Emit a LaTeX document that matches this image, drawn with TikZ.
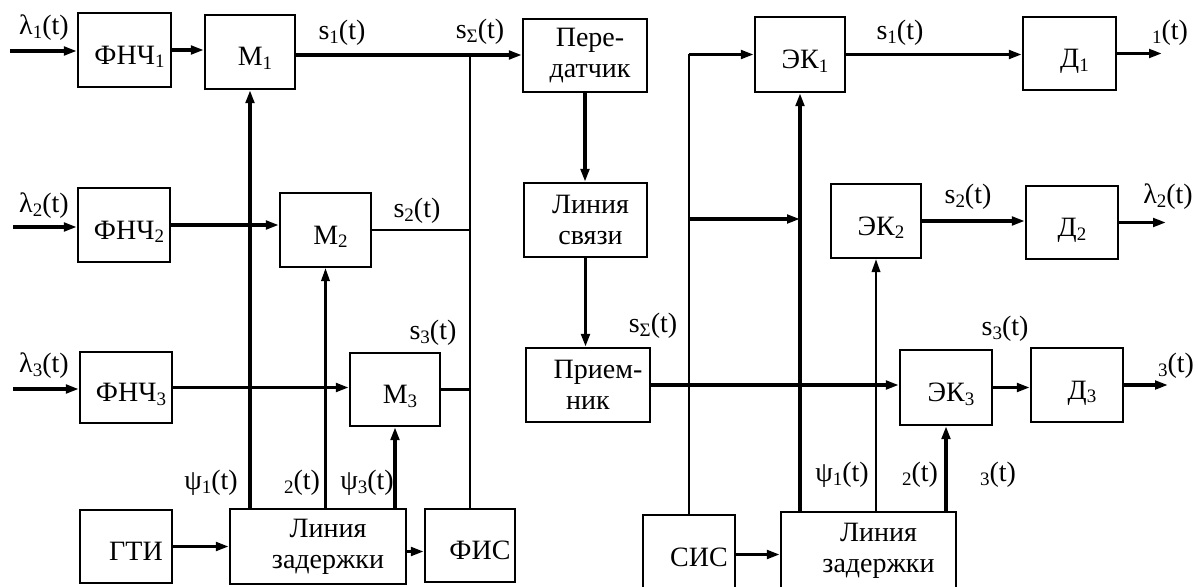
\documentclass[tikz,border=0pt]{standalone}
\usepackage{fontspec}
\setmainfont{Liberation Serif}
\usetikzlibrary{arrows.meta}
\newcommand\lo[1]{\raisebox{-0.3ex}{\fontsize{19pt}{19pt}\selectfont #1}}
\newcommand\sh{\hspace*{10pt}}
\begin{document}
\begin{tikzpicture}[x=1pt,y=-1pt,
  font=\fontsize{28pt}{31pt}\selectfont,
  box/.style={draw, line width=2.3pt, inner sep=0pt, align=center},
  one/.style={text height=28pt, text depth=0pt},
  sz/.style 2 args={minimum width=#1pt, minimum height=#2pt},
  thk/.style={line width=3.5pt},
  thn/.style={line width=2.2pt},
  arr/.style={-{Triangle[length=13pt,width=8.5pt]}},
  lbl/.style={inner sep=0pt}]
\useasboundingbox (0,0) rectangle (1198,586);
% left side boxes
\node[box,one,sz={93}{74}] (f1) at (124.5,50) {\sh ФНЧ\lo{1}};
\node[box,one,sz={90}{74}] (m1) at (250,52) {\sh M\lo{1}};
\node[box,one,sz={92}{74}] (f2) at (124,225) {\sh ФНЧ\lo{2}};
\node[box,one,sz={91}{74}] (m2) at (325.5,230) {\sh M\lo{2}};
\node[box,one,sz={92}{71}] (f3) at (126,387.5) {\sh ФНЧ\lo{3}};
\node[box,one,sz={90}{73}] (m3) at (395,389.5) {\sh M\lo{3}};
\node[box,one,sz={92}{73}] (gti) at (126,546.5) {\sh\sh ГТИ};
\node[box,sz={176}{75}] (lz1) at (318,546.5) {\sh\sh Линия\\\sh\sh задержки};
\node[box,one,sz={90}{73}] (fis) at (470,545.5) {\sh\sh ФИС};
% channel
\node[box,sz={124}{73}] (tx) at (585,55.5) {\sh Пере-\\\sh датчик};
\node[box,sz={123}{74}] (ls) at (585.5,220) {\sh Линия\\\sh связи};
\node[box,sz={124}{74}] (rx) at (588,385) {\sh\sh Прием-\\ник};
% right side boxes
\node[box,one,sz={92}{75}] (sis) at (689,552.5) {\sh\sh СИС};
\node[box,sz={175}{78}] (lz2) at (868.5,551) {\sh\sh Линия\\\sh\sh задержки};
\node[box,one,sz={90}{75}] (ek1) at (800,54.5) {\sh ЭК\lo{1}};
\node[box,one,sz={93}{73}] (d1) at (1069.5,53.5) {\sh Д\lo{1}};
\node[box,one,sz={90}{74}] (ek2) at (876,221) {\sh ЭК\lo{2}};
\node[box,one,sz={92}{73}] (d2) at (1072,222.5) {Д\lo{2}};
\node[box,one,sz={92}{75}] (ek3) at (946,387.5) {\sh ЭК\lo{3}};
\node[box,one,sz={92}{74}] (d3) at (1077,385) {\sh Д\lo{3}};
% free ends and junctions
\coordinate (in1) at (10,51);
\coordinate (in2) at (13,227);
\coordinate (in3) at (13,389);
\coordinate (j1) at (470,55);
\coordinate (o1) at (1162,53.5);
\coordinate (o2) at (1166,222.5);
\coordinate (o3) at (1168,385);
\coordinate (b1) at (689,219);
% left connectors
\draw[thk,arr] (in1) -- (in1 -| f1.west);
\draw[thk,arr] (in2) -- (in2 -| f2.west);
\draw[thk,arr] (in3) -- (in3 -| f3.west);
\draw[thk,arr] (f1.east) -- (f1.east -| m1.west);
\draw[thk,arr] (f2.east) -- (f2.east -| m2.west);
\draw[thk,arr] (f3.east) -- (f3.east -| m3.west);
\draw[thk,arr] (m1.east |- j1) -- (j1 -| tx.west);
\draw[thn] (fis.north) -- (j1);
\draw[thn] (m2.east) -- (m2.east -| fis.north);
\draw[thn] (m3.east) -- (m3.east -| fis.north);
\draw[thk,arr] (lz1.north -| m1.south) -- (m1.south);
\draw[thn,arr] (lz1.north -| m2.south) -- (m2.south);
\draw[thk,arr] (lz1.north -| m3.south) -- (m3.south);
\draw[thk,arr] (gti.east) -- (gti.east -| lz1.west);
\draw[thk,arr] ([yshift=-5pt]lz1.east) -- ([yshift=-5pt]lz1.east -| fis.west);
% channel connectors
\draw[thk,arr] (tx.south) -- (tx.south |- ls.north);
\draw[thk,arr] (ls.south) -- (ls.south |- rx.north);
\draw[thk,arr] (rx.east) -- (rx.east -| ek3.west);
% right connectors
\draw[thn] (sis.north) -- (sis.north |- ek1.west);
\draw[thk,arr] (sis.north |- ek1.west) -- (ek1.west);
\draw[thk,arr] (b1) -- (b1 -| ek1.south);
\draw[thk,arr] (lz2.north -| ek1.south) -- (ek1.south);
\draw[thn,arr] (lz2.north -| ek2.south) -- (ek2.south);
\draw[thk,arr] (lz2.north -| ek3.south) -- (ek3.south);
\draw[thk,arr] ([yshift=-2pt]sis.east) -- ([yshift=-2pt]sis.east -| lz2.west);
\draw[thk,arr] (ek1.east) -- (ek1.east -| d1.west);
\draw[thk,arr] (ek2.east) -- (ek2.east -| d2.west);
\draw[thk,arr] (ek3.east) -- (ek3.east -| d3.west);
\draw[thk,arr] (d1.east |- o1) -- (o1);
\draw[thk,arr] (d2.east |- o2) -- (o2);
\draw[thk,arr] (d3.east |- o3) -- (o3);
% labels
\node[lbl] (l1) at (44,28) {λ\lo{1}(t)};
\node[lbl] (l2) at (44,206) {λ\lo{2}(t)};
\node[lbl] (l3) at (44,366) {λ\lo{3}(t)};
\node[lbl] (s1) at (342,33) {s\lo{1}(t)};
\node[lbl] (ss) at (480,32) {s\lo{Σ}(t)};
\node[lbl] (s2) at (417,211) {s\lo{2}(t)};
\node[lbl] (s3) at (433,333) {s\lo{3}(t)};
\node[lbl] (p1) at (211,483) {ψ\lo{1}(t)};
\node[lbl] (p2) at (302,483) {\lo{2}(t)};
\node[lbl] (p3) at (367,483) {ψ\lo{3}(t)};
\node[lbl] (rs) at (653,326) {s\lo{Σ}(t)};
\node[lbl] (rs1) at (900,33) {s\lo{1}(t)};
\node[lbl] (rs2) at (968,197) {s\lo{2}(t)};
\node[lbl] (rs3) at (1005,329) {s\lo{3}(t)};
\node[lbl] (ol1) at (1170,33) {\lo{1}(t)};
\node[lbl] (ol2) at (1168,197) {λ\lo{2}(t)};
\node[lbl] (ol3) at (1176,366) {\lo{3}(t)};
\node[lbl] (q1) at (842,475) {ψ\lo{1}(t)};
\node[lbl] (q2) at (920,475) {\lo{2}(t)};
\node[lbl] (q3) at (998,475) {\lo{3}(t)};
\end{tikzpicture}
\end{document}
